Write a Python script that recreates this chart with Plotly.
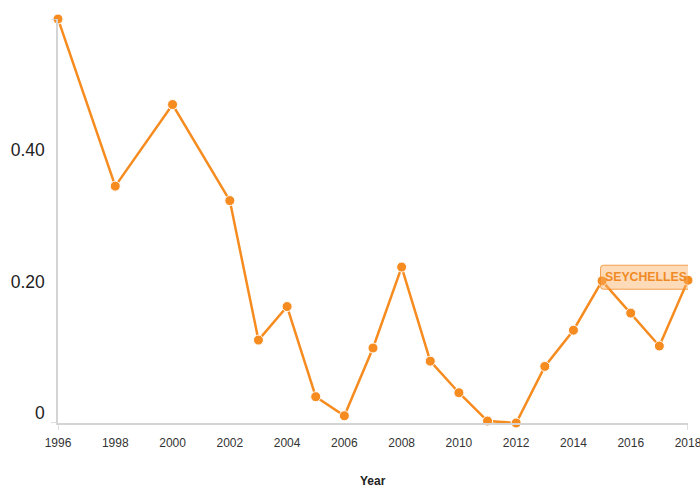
import plotly.graph_objects as go

# Seychelles series, yearly observations (1997, 1999 and 2001 not reported)
years = [1996, 1998, 2000, 2002, 2003, 2004, 2005, 2006, 2007, 2008,
         2009, 2010, 2011, 2012, 2013, 2014, 2015, 2016, 2017, 2018]
values = [0.599, 0.345, 0.469, 0.323, 0.111, 0.162, 0.025, -0.004, 0.099, 0.222,
          0.079, 0.031, -0.012, -0.015, 0.071, 0.126, 0.201, 0.152, 0.102, 0.202]

country = "SEYCHELLES"
x_title = "Year"
y_ticks = [0, 0.2, 0.4]
y_tick_text = ["0", "0.20", "0.40"]
x_ticks = list(range(1996, 2019, 2))

ORANGE = "#f68b1f"
AXIS_GREY = "#d4d4d4"
FONT = "Liberation Sans, Arial, sans-serif"

fig = go.Figure()
fig.add_trace(go.Scatter(
    x=years, y=values, mode="lines+markers",
    line=dict(color=ORANGE, width=2.5),
    marker=dict(size=10, color=ORANGE, line=dict(color="white", width=1)),
    cliponaxis=False, hoverinfo="x+y", showlegend=False,
))

x_min, x_max = min(years), max(years)
y_min, y_max = min(values), max(values)

shapes = [
    # outer ticks at both ends of the x axis
    dict(type="line", xref="x", yref="paper", x0=x_min, x1=x_min,
         ysizemode="pixel", yanchor=0, y0=0, y1=-7,
         line=dict(color=AXIS_GREY, width=1.5)),
    dict(type="line", xref="x", yref="paper", x0=x_max, x1=x_max,
         ysizemode="pixel", yanchor=0, y0=0, y1=-7,
         line=dict(color=AXIS_GREY, width=1.5)),
    # outer ticks at both ends of the y axis
    dict(type="line", xref="paper", yref="y", y0=y_max, y1=y_max,
         xsizemode="pixel", xanchor=0, x0=0, x1=-7,
         line=dict(color=AXIS_GREY, width=1.5)),
    dict(type="line", xref="paper", yref="y", y0=y_min, y1=y_min,
         xsizemode="pixel", xanchor=0, x0=0, x1=-7,
         line=dict(color=AXIS_GREY, width=1.5)),
    # rounded label box next to the last observation
    dict(type="path", layer="above", xref="x", yref="y",
         xsizemode="pixel", ysizemode="pixel",
         xanchor=years[-1], yanchor=values[-1],
         path=("M -84.5 15 L 1.5 15 Q 4.5 15 4.5 12 L 4.5 -6 Q 4.5 -9 1.5 -9 "
               "L -84.5 -9 Q -87.5 -9 -87.5 -6 L -87.5 12 Q -87.5 15 -84.5 15 Z"),
         fillcolor="rgba(250,175,100,0.45)",
         line=dict(color="rgba(242,140,40,0.8)", width=1)),
]

# series name label at the end of the line
fig.add_annotation(
    x=years[-1], y=values[-1], xref="x", yref="y",
    text="<b>" + country + "</b>", showarrow=False,
    xanchor="right", yanchor="middle", xshift=1, yshift=3,
    font=dict(family=FONT, size=12.3, color="#f08a24"),
)

# x axis title, centred under the plot area
fig.add_annotation(
    x=0.5, y=0, xref="paper", yref="paper",
    text="<b>" + x_title + "</b>", showarrow=False,
    xanchor="center", yanchor="middle", yshift=-58,
    font=dict(family=FONT, size=12, color="#222222"),
)

fig.update_layout(
    width=700, height=486,
    margin=dict(l=57.5, r=12.3, t=19, b=63.3),
    paper_bgcolor="white", plot_bgcolor="white",
    font=dict(family=FONT),
    shapes=shapes,
    xaxis=dict(
        range=[x_min, x_max], tickvals=x_ticks, ticktext=[str(v) for v in x_ticks],
        showgrid=False, zeroline=False, showline=True, linecolor=AXIS_GREY, linewidth=1.5,
        ticks="", ticklabelstandoff=8, ticklabeloverflow="allow", automargin=False,
        tickfont=dict(family=FONT, size=12, color="#333333"),
    ),
    yaxis=dict(
        range=[y_min, y_max], tickvals=y_ticks, ticktext=y_tick_text,
        showgrid=False, zeroline=False, showline=True, linecolor=AXIS_GREY, linewidth=1.5,
        ticks="", ticklabelstandoff=8, automargin=False,
        tickfont=dict(family=FONT, size=17.5, color="#222222"),
    ),
)

fig.write_html("out.html")
